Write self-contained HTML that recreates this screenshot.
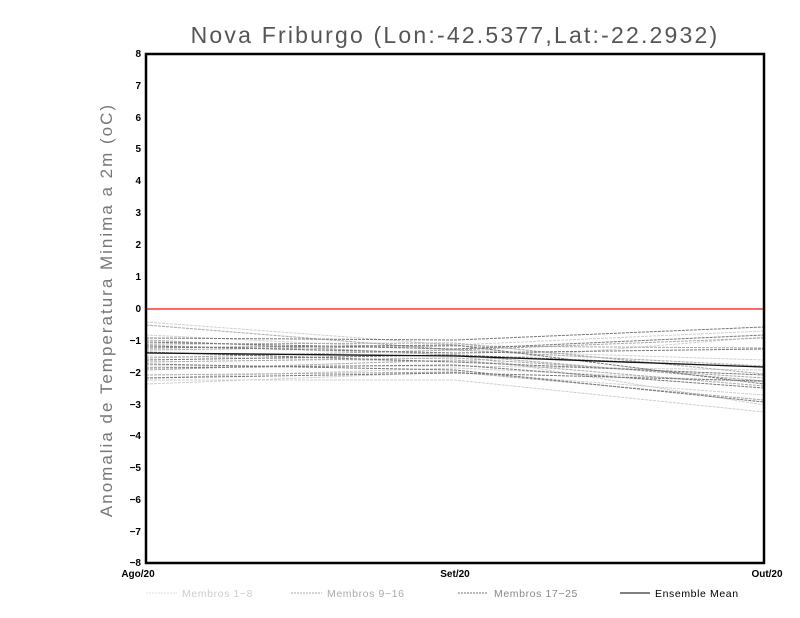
<!DOCTYPE html>
<html><head><style>
body{margin:0;background:#fff;}
svg{display:block;font-family:"Liberation Sans",sans-serif;}
</style></head><body>
<svg width="800" height="618" viewBox="0 0 800 618">
<rect width="800" height="618" fill="#fff"/>
<text x="455" y="43" text-anchor="middle" font-size="23" fill="#555" letter-spacing="2.2" font-weight="300">Nova Friburgo (Lon:-42.5377,Lat:-22.2932)</text>
<text transform="translate(112,310) rotate(-90)" text-anchor="middle" font-size="17" fill="#777" letter-spacing="2">Anomalia de Temperatura Minima a 2m (oC)</text>
<g stroke-width="1" fill="none" stroke-dasharray="3,1">
<g stroke="#cfcfcf">
<polyline points="146,322 455,345 764,331"/>
<polyline points="146,380 455,380 764,412"/>
<polyline points="146,384 455,372 764,395"/>
<polyline points="146,356 455,362 764,337"/>
<polyline points="146,345 455,355 764,405"/>
<polyline points="146,366 455,366 764,370"/>
<polyline points="146,335 455,350 764,360"/>
<polyline points="146,378 455,368 764,382"/>
</g>
<g stroke="#a8a8a8">
<polyline points="146,325 455,350 764,338"/>
<polyline points="146,340 455,355 764,381"/>
<polyline points="146,350 455,346 764,348"/>
<polyline points="146,362 455,358 764,378"/>
<polyline points="146,370 455,360 764,386"/>
<polyline points="146,344 455,343 764,374"/>
<polyline points="146,375 455,372 764,400"/>
<polyline points="146,358 455,350 764,366"/>
</g>
<g stroke="#777">
<polyline points="146,338 455,340 764,327"/>
<polyline points="146,342 455,349 764,335"/>
<polyline points="146,346 455,353 764,349"/>
<polyline points="146,352 455,362 764,375"/>
<polyline points="146,360 455,355 764,367"/>
<polyline points="146,364 455,370 764,402"/>
<polyline points="146,378 455,373 764,381"/>
<polyline points="146,348 455,345 764,384"/>
<polyline points="146,368 455,365 764,388"/>
</g>
</g>
<polyline points="146,353 455,356 764,367" stroke="#111" stroke-width="1.3" fill="none"/>
<line x1="146" y1="309" x2="764" y2="309" stroke="#f33" stroke-width="1.5"/>
<rect x="146" y="54" width="618" height="509" fill="none" stroke="#000" stroke-width="2.5"/>
<g font-size="10" font-weight="bold" text-anchor="end" fill="#000">
<text x="141" y="57">8</text><text x="141" y="89">7</text><text x="141" y="121">6</text><text x="141" y="152">5</text><text x="141" y="184">4</text><text x="141" y="216">3</text><text x="141" y="248">2</text><text x="141" y="280">1</text><text x="141" y="312">0</text><text x="141" y="344">−1</text><text x="141" y="376">−2</text><text x="141" y="408">−3</text><text x="141" y="439">−4</text><text x="141" y="471">−5</text><text x="141" y="503">−6</text><text x="141" y="535">−7</text><text x="141" y="566">−8</text>
</g>
<g font-size="10" font-weight="bold" text-anchor="middle">
<text x="138" y="577">Ago/20</text><text x="455" y="577">Set/20</text><text x="767" y="577">Out/20</text>
</g>
<g font-size="10.5" letter-spacing="0.6">
<line x1="146" y1="593" x2="177" y2="593" stroke="#ddd" stroke-dasharray="2,1"/>
<text x="182" y="597" fill="#ccc">Membros 1−8</text>
<line x1="291" y1="593" x2="322" y2="593" stroke="#aaa" stroke-dasharray="2,1"/>
<text x="327" y="597" fill="#aaa">Membros 9−16</text>
<line x1="458" y1="593" x2="488" y2="593" stroke="#777" stroke-dasharray="2,1"/>
<text x="494" y="597" fill="#888">Membros 17−25</text>
<line x1="620" y1="593" x2="650" y2="593" stroke="#000"/>
<text x="655" y="597" fill="#000">Ensemble Mean</text>
</g>
</svg>
</body></html>
